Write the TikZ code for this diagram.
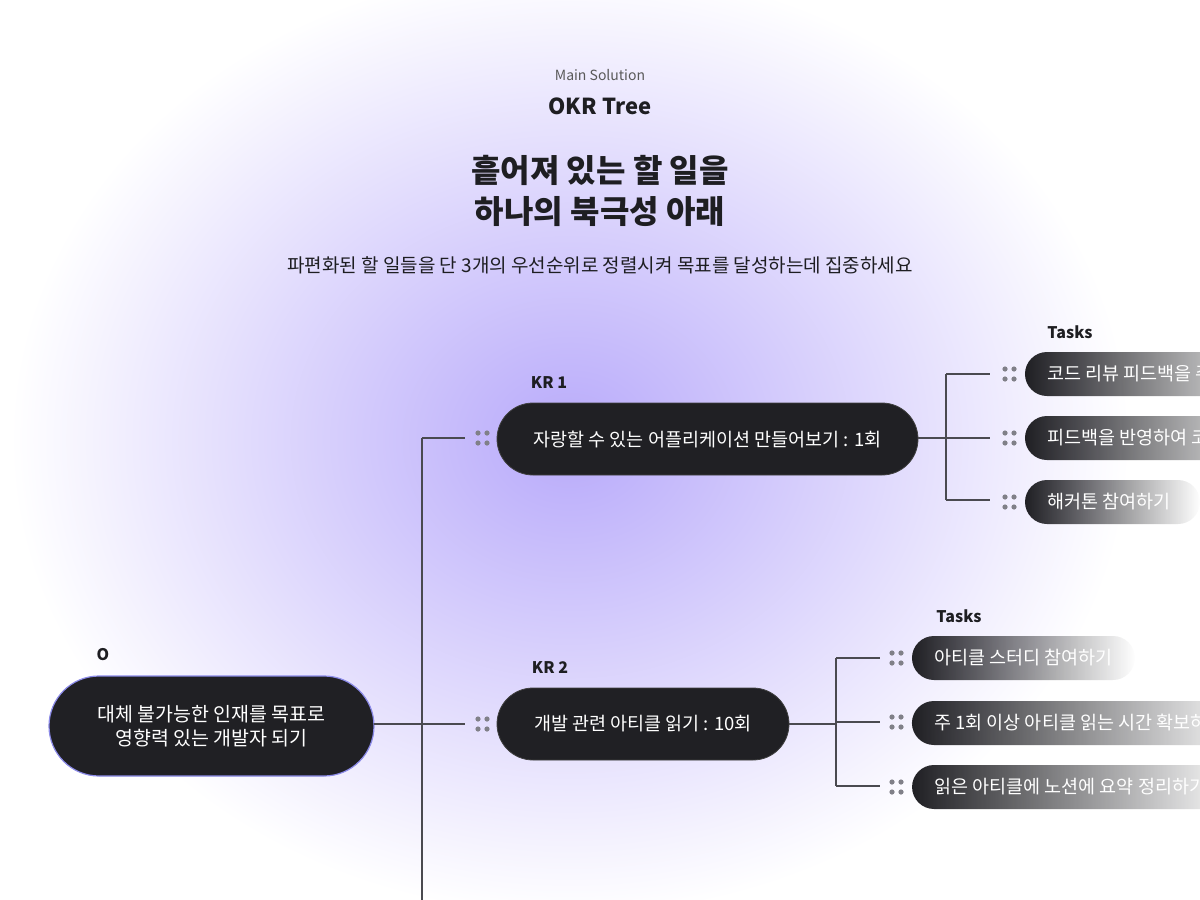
\documentclass[tikz,border=0pt]{standalone}
\usepackage{fontspec}
\setmainfont{Noto Sans CJK KR}
\usetikzlibrary{fadings}
\definecolor{pilldark}{HTML}{202024}
\definecolor{linec}{HTML}{4A4A50}
\definecolor{dotc}{HTML}{808088}
\definecolor{glow}{HTML}{B8AAFA}
\definecolor{txt}{HTML}{1E1E22}
\tikzfading[name=pillfade, left color=transparent!0, middle color=transparent!5, right color=transparent!100]
\newcommand{\fs}[1]{\fontsize{#1}{#1}\selectfont}
\begin{document}
\begin{tikzpicture}[x=1pt,y=-1pt,
  pill/.style={fill=pilldark,draw=black!75,line width=0.8pt,rounded corners=22pt},
  ptext/.style={text=white,font=\fs{18.5},anchor=west,inner sep=0pt},
  lbl/.style={text=txt,font=\bfseries\fs{16},inner sep=0pt},
  conn/.style={draw=linec,line width=1.4pt}]
\useasboundingbox (0,0) rectangle (1200,900);
\clip (0,0) rectangle (1200,900);
\fill[white] (0,0) rectangle (1200,900);
\begin{scope}[shift={(570,440)},yscale=0.85]
\shade[inner color=glow,outer color=white] (0,0) circle[radius=560];
\end{scope}
% header
\node[text=black!65,font=\fs{14}] (ms) at (600,75) {Main Solution};
\node[text=txt,font=\bfseries\fs{22}] (okr) at (600,106) {OKR Tree};
\node[text=txt,font=\bfseries\fs{32}] (t1) at (600,170) {흩어져 있는 할 일을};
\node[text=txt,font=\bfseries\fs{32}] (t2) at (600,212) {하나의 북극성 아래};
\node[text=txt,font=\fs{19}] (sub) at (600,265) {파편화된 할 일들을 단 3개의 우선순위로 정렬시켜 목표를 달성하는데 집중하세요};
% dots
\newcommand{\hdl}[2]{\foreach \dx in {0,9} \foreach \dy in {-5,5} \fill[dotc] (#1+\dx,#2+\dy) circle[radius=2.6];}
% O
\node[lbl] (ol) at (103,655) {O};
\draw[fill=pilldark,draw=glow!40!black!30!blue!50,line width=1.2pt,rounded corners=50pt] (49,676) rectangle (374,776);
\node[text=white,font=\fs{19.5},align=center,inner sep=0pt] (o) at (211.5,726) {대체 불가능한 인재를 목표로\\[4pt]영향력 있는 개발자 되기};
\coordinate (oR) at (374,724);
% trunk
\coordinate (tr1) at (422,438);
\coordinate (tr2) at (422,724);
\coordinate (trb) at (422,900);
\draw[conn] (tr1) -- (trb);
\draw[conn] (oR) -- (465,724);
\draw[conn] (tr1) -- (465,438);
% KR1
\node[lbl] (k1l) at (549,383) {KR 1};
\hdl{478}{438}
\draw[pill,rounded corners=36pt] (497,403) rectangle (918,475);
\node[text=white,font=\fs{18.5},inner sep=0pt] (k1) at (707.5,439) {자랑할 수 있는 어플리케이션 만들어보기 : 1회};
\coordinate (k1R) at (918,438);
\draw[conn] (k1R) -- (946,438);
\draw[conn] (946,374) -- (946,500);
\foreach \y in {374,438,500} \draw[conn] (946,\y) -- (990,\y);
\node[lbl] (ta1) at (1070,332) {Tasks};
\hdl{1005}{374}\hdl{1005}{438}\hdl{1005}{502}
\path[fill=pilldark,rounded corners=22pt,path fading=pillfade] (1025,352) rectangle (1290,396);
\path[fill=pilldark,rounded corners=22pt,path fading=pillfade] (1025,416) rectangle (1290,460);
\path[fill=pilldark,rounded corners=22pt,path fading=pillfade] (1025,480) rectangle (1200,524);
\node[ptext] (a1) at (1047,374) {코드 리뷰 피드백을 주고받기};
\node[ptext] (a2) at (1047,438) {피드백을 반영하여 코드 개선하기};
\node[ptext] (a3) at (1047,502) {해커톤 참여하기};
% KR2
\node[lbl] (k2l) at (550,668) {KR 2};
\hdl{478}{724}
\draw[pill,rounded corners=36pt] (497,688) rectangle (789,760);
\node[text=white,font=\fs{18.5},inner sep=0pt] (k2) at (643,724) {개발 관련 아티클 읽기 : 10회};
\coordinate (k2R) at (789,724);
\draw[conn] (k2R) -- (836,724);
\draw[conn] (836,658) -- (836,786);
\foreach \y in {658,722,786} \draw[conn] (836,\y) -- (880,\y);
\node[lbl] (ta2) at (959,616) {Tasks};
\hdl{892}{658}\hdl{892}{722}\hdl{892}{787}
\path[fill=pilldark,rounded corners=22pt,path fading=pillfade] (912,636) rectangle (1135,680);
\path[fill=pilldark,rounded corners=22pt,path fading=pillfade] (912,701) rectangle (1250,745);
\path[fill=pilldark,rounded corners=22pt,path fading=pillfade] (912,765) rectangle (1240,809);
\node[ptext] (b1) at (934,658) {아티클 스터디 참여하기};
\node[ptext] (b2) at (934,723) {주 1회 이상 아티클 읽는 시간 확보하기};
\node[ptext] (b3) at (934,787) {읽은 아티클에 노션에 요약 정리하기};
\end{tikzpicture}
\end{document}
